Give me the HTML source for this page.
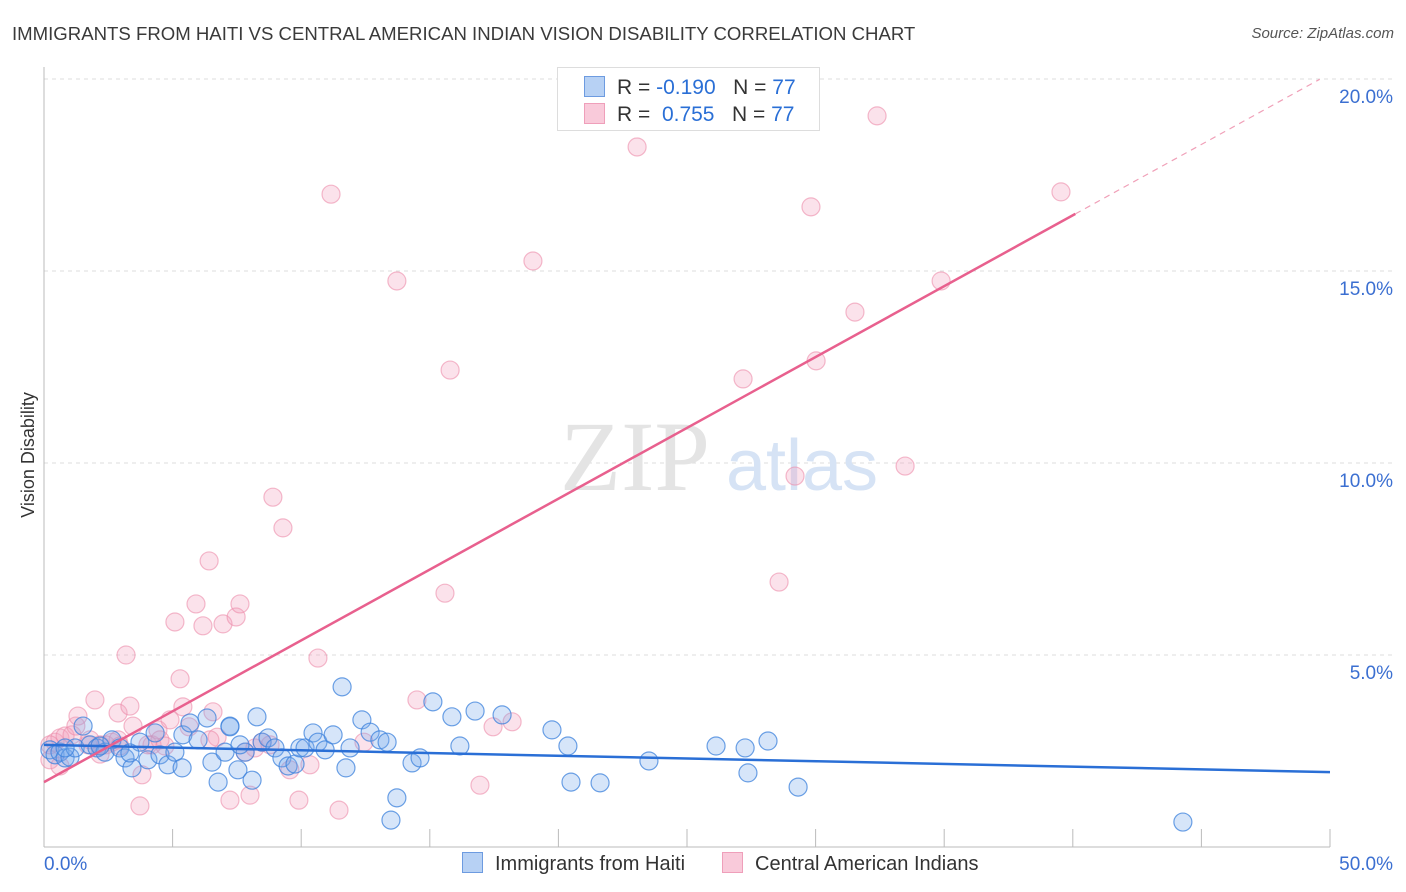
<!DOCTYPE html>
<html><head><meta charset="utf-8">
<style>
body{margin:0;background:#fff;font-family:"Liberation Sans",sans-serif;}
#wrap{position:relative;width:1406px;height:892px;overflow:hidden}
.t{position:absolute;white-space:nowrap}
</style></head>
<body>
<div id="wrap">
<div class="t" style="left:12px;top:23px;font-size:18.6px;color:#3a3a3a">IMMIGRANTS FROM HAITI VS CENTRAL AMERICAN INDIAN VISION DISABILITY CORRELATION CHART</div>
<div class="t" style="right:12px;top:25px;font-size:15px;color:#555;font-style:italic">Source: ZipAtlas.com</div>
<svg id="svg" width="1406" height="892" style="position:absolute;left:0;top:0"></svg>
</div>
<script>
const xTicks=[0,5,10,15,20,25,30,35,40,45,50];
const yGrid=[5,10,15,20];
const yTickLabels=["5.0%","10.0%","15.0%","20.0%"];
const xEndLabels=["0.0%","50.0%"];
const haitiX=[0.23,0.43,0.62,0.82,1.01,1.21,1.52,1.79,2.06,2.37,2.64,2.95,3.15,3.42,3.73,4.04,4.32,4.51,4.82,5.09,5.37,5.40,5.68,5.99,6.34,6.53,6.77,7.04,7.23,7.54,7.82,8.09,8.28,8.48,8.71,8.98,9.25,9.49,9.76,9.95,10.15,10.46,10.65,10.93,11.24,11.59,11.74,11.90,12.36,12.68,13.06,13.34,13.72,13.49,14.31,14.62,15.12,15.86,16.17,16.76,17.81,19.75,20.37,20.49,21.62,23.52,26.13,27.26,27.37,28.15,29.32,44.28,7.23,3.34,0.82,2.18,7.62];
const haitiY=[2.53,2.40,2.47,2.32,2.34,2.58,3.15,2.66,2.58,2.47,2.79,2.58,2.32,2.06,2.73,2.27,2.97,2.40,2.14,2.47,2.06,2.92,3.23,2.79,3.36,2.21,1.69,2.47,3.15,2.01,2.47,1.74,3.39,2.73,2.84,2.58,2.32,2.11,2.16,2.58,2.58,2.97,2.73,2.53,2.92,4.17,2.06,2.58,3.31,2.99,2.79,2.73,1.28,0.70,2.19,2.32,3.78,3.39,2.63,3.54,3.44,3.05,2.63,1.69,1.67,2.24,2.63,2.58,1.93,2.76,1.56,0.65,3.13,2.45,2.58,2.63,2.66];
const camX=[0.23,0.43,0.62,0.82,1.09,1.24,1.32,1.71,1.98,2.18,2.41,2.64,2.88,2.88,3.19,3.34,3.46,3.73,3.81,4.04,4.20,4.43,4.90,5.09,5.29,5.40,5.64,5.91,6.18,6.42,6.57,6.73,6.96,7.23,7.47,7.62,7.82,8.01,8.20,8.48,8.90,9.29,9.56,9.91,10.34,10.65,11.16,11.47,12.44,13.72,14.50,15.59,15.79,16.95,17.46,18.20,19.01,23.06,27.18,28.58,29.20,29.82,30.02,31.53,32.39,33.48,34.88,39.54,2.18,0.62,1.79,2.95,0.23,4.51,6.45,8.79,4.70];
const camY=[2.27,2.73,2.84,2.89,2.92,3.15,3.41,2.66,3.83,2.66,2.66,2.73,3.49,2.79,5.0,3.67,3.15,1.07,1.88,2.66,2.66,3.05,3.31,5.86,4.38,3.65,3.13,6.33,5.76,7.45,3.52,2.86,5.81,1.22,5.99,6.33,2.47,1.35,2.58,2.73,9.11,8.31,2.01,1.22,2.14,4.92,17.0,0.96,2.73,14.74,3.83,6.61,12.42,1.61,3.13,3.26,15.26,18.23,12.19,6.90,9.66,16.67,12.66,13.93,19.04,9.92,14.74,17.06,2.42,2.11,2.79,2.63,2.66,2.79,2.79,2.66,2.63];
const haitiTrend=[2.66,1.95];
const camTrend=[1.69,0.369];

const X0=44,X1=1330,Y0=847,PY=38.4;
const sx=v=>X0+(X1-X0)*v/50, sy=v=>Y0-v*PY;
const svg=document.getElementById('svg');
const NS='http://www.w3.org/2000/svg';
function mk(tag,attrs){const e=document.createElementNS(NS,tag);for(const k in attrs)e.setAttribute(k,attrs[k]);svg.appendChild(e);return e;}
yGrid.forEach((v,i)=>{
 const g=mk('line',{x1:X0,x2:1395,y1:sy(v),y2:sy(v),stroke:'#ddd','stroke-dasharray':'4,4'});
 
 
 const t=mk('text',{x:1393,y:sy(v)+24,'text-anchor':'end','font-size':19,fill:'#3b6fd1','font-family':'Liberation Sans, sans-serif'});
 t.textContent=yTickLabels[i];
 
 
});
const ax=mk('line',{x1:X0,x2:X0,y1:67,y2:Y0,stroke:'#bbb'});


const bx=mk('line',{x1:X0,x2:X1,y1:Y0,y2:Y0,stroke:'#bbb'});


xTicks.forEach(v=>{
 const l=mk('line',{x1:sx(v),x2:sx(v),y1:829,y2:Y0,stroke:'#bbb'});
 
 
});
[[0,'start',X0],[1,'end',1393]].forEach(([i,a,x])=>{
 const t=mk('text',{x:x,y:870,'text-anchor':a,'font-size':19,fill:'#3b6fd1','font-family':'Liberation Sans, sans-serif'});
 t.textContent=xEndLabels[i];
 
 
});
const yt=mk('text',{x:34,y:455,'text-anchor':'middle','font-size':18,fill:'#333',transform:'rotate(-90 34 455)','font-family':'Liberation Sans, sans-serif'});
yt.textContent='Vision Disability';


const wm1=mk('text',{x:635,y:490,'text-anchor':'middle','font-size':100,fill:'#e4e4e4','font-family':'Liberation Serif, serif'});
wm1.textContent='ZIP';


const wm2=mk('text',{x:802,y:490,'text-anchor':'middle','font-size':72,fill:'#d6e3f5','font-family':'Liberation Sans, sans-serif'});
wm2.textContent='atlas';


camX.forEach((x,i)=>{
 const c=mk('circle',{cx:sx(x),cy:sy(camY[i]),r:9,fill:'rgba(242,160,188,0.3)',stroke:'rgba(236,140,170,0.6)','stroke-width':1.2});
 
 
});
haitiX.forEach((x,i)=>{
 const c=mk('circle',{cx:sx(x),cy:sy(haitiY[i]),r:9,fill:'rgba(120,170,235,0.3)',stroke:'rgba(60,130,220,0.75)','stroke-width':1.2});
 
 
});
const bl=mk('line',{x1:sx(0),y1:sy(haitiTrend[0]),x2:sx(50),y2:sy(haitiTrend[1]),stroke:'#2a6fd6','stroke-width':2.5});


const pe=40.1;
const pl=mk('line',{x1:sx(0),y1:sy(camTrend[0]),x2:sx(pe),y2:sy(camTrend[0]+camTrend[1]*pe),stroke:'#e8608e','stroke-width':2.5});


const pd=mk('line',{x1:sx(pe),y1:sy(camTrend[0]+camTrend[1]*pe),x2:sx(49.6),y2:sy(camTrend[0]+camTrend[1]*49.6),stroke:'#f0a0b8','stroke-width':1.2,'stroke-dasharray':'6,5'});


</script>
<div class="t" style="left:557px;top:67px;width:261px;height:62px;border:1px solid #ddd;background:#fff;font-size:21px;color:#333">
 <div style="position:absolute;left:26px;top:8px"><span style="display:inline-block;width:19px;height:19px;background:#b7d1f4;border:1px solid #6d9be0;vertical-align:-3px;margin-right:12px"></span>R = <span style="color:#2a6fd6">-0.190</span>&nbsp;&nbsp;&nbsp;N = <span style="color:#2a6fd6">77</span></div>
 <div style="position:absolute;left:26px;top:35px"><span style="display:inline-block;width:19px;height:19px;background:#f9cada;border:1px solid #ef9fba;vertical-align:-3px;margin-right:12px"></span>R = &nbsp;<span style="color:#2a6fd6">0.755</span>&nbsp;&nbsp;&nbsp;N = <span style="color:#2a6fd6">77</span></div>
</div>
<div class="t" style="left:462px;top:852px;font-size:20px;color:#333"><span style="display:inline-block;width:19px;height:19px;background:#b7d1f4;border:1px solid #6d9be0;vertical-align:-3px;margin-right:12px"></span>Immigrants from Haiti</div>
<div class="t" style="left:722px;top:852px;font-size:20px;color:#333"><span style="display:inline-block;width:19px;height:19px;background:#f9cada;border:1px solid #ef9fba;vertical-align:-3px;margin-right:12px"></span>Central American Indians</div>
</body></html>
